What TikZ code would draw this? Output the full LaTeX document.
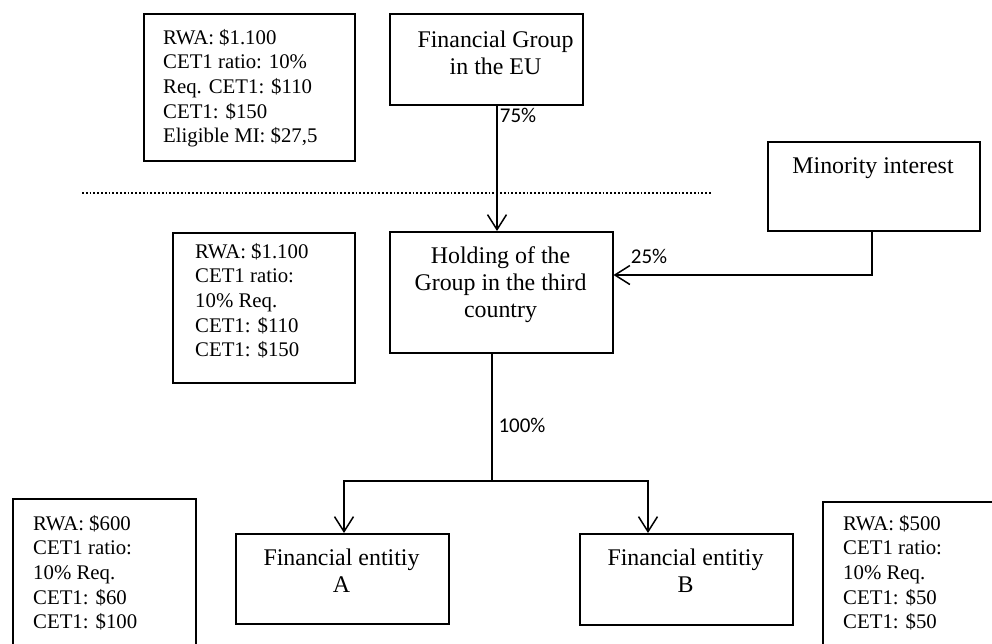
\documentclass[tikz,border=0pt]{standalone}
\usepackage{fontspec}
\setmainfont{Liberation Serif}
\newfontfamily\labelfont{Carlito}
\usetikzlibrary{arrows.meta}
\tikzset{
  frame/.style={draw, line width=1.5pt, rectangle, inner sep=0pt, anchor=north west},
  ctext/.style={anchor=north, inner sep=0pt, align=center, font=\fontsize{23.9}{27}\selectfont},
  ltext/.style={anchor=north west, inner sep=0pt, align=left, font=\fontsize{20.8}{24.6}\selectfont},
  pct/.style={inner sep=0pt, font=\labelfont\fontsize{21}{24}\selectfont},
  conn/.style={line width=1.5pt},
  arr/.style={conn, -{Straight Barb[length=15pt,width=19pt,line width=1.5pt]}},
  dotline/.style={line width=1.8pt, dash pattern=on 1.8pt off 2pt}
}
\newcommand{\tstrut}{\rule{0pt}{18pt}}
\begin{document}
\begin{tikzpicture}[x=1pt,y=-1pt]
\clip (0,0) rectangle (992,643);
\fill[white] (0,0) rectangle (992,643);
% main boxes
\node[frame, minimum width=193pt, minimum height=91pt] (fg) at (389,13) {};
\node[ctext] (fgt) at (495.5,29) {\tstrut Financial Group\\in the EU};
\node[frame, minimum width=212pt, minimum height=89pt] (mi) at (767,141) {};
\node[ctext] (mit) at (873,155) {\tstrut Minority interest};
\node[frame, minimum width=223pt, minimum height=121pt] (hold) at (389,231) {};
\node[ctext] (holdt) at (500.5,245) {\tstrut Holding of the\\Group in the third\\country};
\node[frame, minimum width=213pt, minimum height=90pt] (ea) at (235,533) {};
\node[ctext] (eat) at (341.5,547) {\tstrut Financial entitiy\\A};
\node[frame, minimum width=213pt, minimum height=91pt] (eb) at (579,533) {};
\node[ctext] (ebt) at (685.5,547) {\tstrut Financial entitiy\\B};
% info boxes
\node[frame, minimum width=211pt, minimum height=147pt] (i1) at (143,13) {};
\node[ltext] (i1t) at (163,26) {\tstrut RWA: \$1.100\\CET1 ratio: 10\%\\Req. CET1: \$110\\CET1: \$150\\Eligible MI: \$27,5};
\node[frame, minimum width=182pt, minimum height=150pt] (i2) at (172,232) {};
\node[ltext] (i2t) at (195,240) {\tstrut RWA: \$1.100\\CET1 ratio:\\10\% Req.\\CET1: \$110\\CET1: \$150};
\node[frame, minimum width=183pt, minimum height=170pt] (i3) at (12,498) {};
\node[ltext] (i3t) at (33,512) {\tstrut RWA: \$600\\CET1 ratio:\\10\% Req.\\CET1: \$60\\CET1: \$100};
\node[frame, minimum width=200pt, minimum height=170pt] (i4) at (822,501) {};
\node[ltext] (i4t) at (843,512) {\tstrut RWA: \$500\\CET1 ratio:\\10\% Req.\\CET1: \$50\\CET1: \$50};
% dotted border line
\coordinate (dl) at (82,193);
\coordinate (dr) at (712,193);
\draw[dotline] (dl) -- (dr);
% connectors
\coordinate (xa) at (497,0);
\draw[arr] (fg.south -| xa) -- (hold.north -| xa);
\node[pct] (p75) at (518,115) {75\%};
\coordinate (mj) at (872,275);
\draw[arr] (mi.south -| mj) -- (mj) -- (hold.east |- mj);
\node[pct] (p25) at (649,256) {25\%};
\coordinate (split) at (492,481);
\coordinate (aA) at (344,481);
\coordinate (aB) at (648,481);
\draw[conn] (hold.south -| split) -- (split);
\draw[arr] (split) -- (aA) -- (ea.north -| aA);
\draw[arr] (split) -- (aB) -- (eb.north -| aB);
\node[pct] (p100) at (522,425) {100\%};
\end{tikzpicture}
\end{document}
